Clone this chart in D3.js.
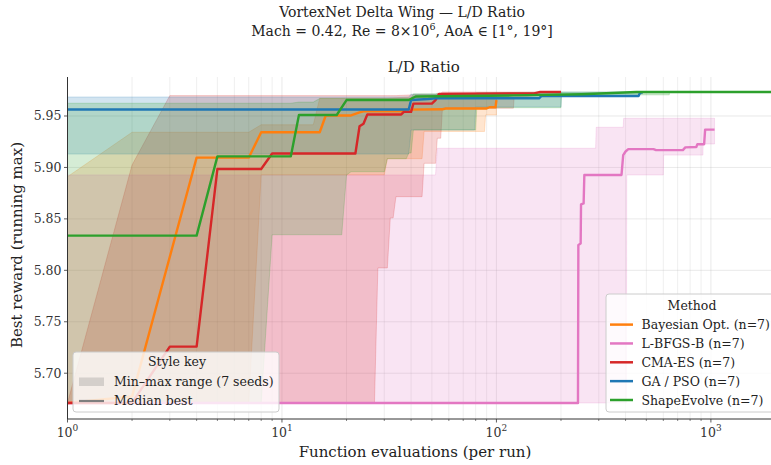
<!DOCTYPE html>
<html><head><meta charset="utf-8">
<script src="https://cdn.jsdelivr.net/npm/d3@7"></script>
<style>
html,body{margin:0;padding:0;background:#fff;overflow:hidden}
svg{display:block;font-family:"DejaVu Serif",serif}
</style></head>
<body><svg id="c" width="771" height="465"></svg>
<script>
// ---------- data (evaluation, value) ----------
const methods = ["Bayesian Opt. (n=7)","L-BFGS-B (n=7)","CMA-ES (n=7)","GA / PSO (n=7)","ShapeEvolve (n=7)"];
const colors  = ["#ff7f0e","#e377c2","#d62728","#1f77b4","#2ca02c"];

const boMedian = [[1,5.6711],[2,5.6775],[4,5.9095],[7,5.9095],[8,5.9342],[15,5.9342],[16,5.9505],[21,5.9505],[23,5.9535],[24,5.9545],[36,5.9545],[38,5.9562],[56,5.9565],[58,5.9573],[90,5.9573],[93,5.9585],[99,5.9585],[100,5.9655]];
const boBand   = [[1,5.6711,5.891],[2,5.6711,5.9342],[7,5.6711,5.9342],[8,5.8927,5.9415],[14,5.8927,5.9415],[15,5.8927,5.9673],[30,5.8927,5.9673],[31,5.9085,5.9673],[45,5.9085,5.969],[46,5.935,5.969],[88,5.935,5.969],[89,5.951,5.969],[100,5.951,5.970]];

const lbMedian = [[1,5.6711],[240,5.6711],[241,5.8247],[247,5.826],[248,5.864],[255,5.865],[257,5.8927],[383,5.8927],[390,5.912],[400,5.9155],[412,5.9178],[540,5.9178],[555,5.9168],[740,5.9168],[760,5.9195],[855,5.9199],[865,5.9226],[930,5.9226],[940,5.9368],[1040,5.9368]];
const lbBand   = [[1,5.6711,5.8927],[52,5.6711,5.8927],[53,5.6711,5.9186],[290,5.6711,5.9186],[292,5.6711,5.939],[390,5.6711,5.939],[392,5.6711,5.9478],[404,5.6711,5.9478],[405,5.8927,5.9478],[600,5.8927,5.9478],[602,5.912,5.9478],[918,5.912,5.9478],[920,5.9228,5.9478],[1040,5.9228,5.9478]];

const cmaMedian = [[1,5.6711],[2,5.6711],[3,5.7258],[4,5.7258],[5,5.8985],[8,5.8985],[9,5.9135],[22,5.9135],[23,5.940],[24,5.9425],[25,5.9515],[36,5.9515],[37,5.954],[40,5.954],[41,5.962],[50,5.962],[52,5.9655],[54,5.9715],[150,5.972],[160,5.9733],[200,5.9733]];
const cmaBand   = [[1,5.6711,5.6711],[2,5.6711,5.9024],[3,5.6711,5.9698],[27,5.6711,5.9698],[28,5.8023,5.9698],[31,5.8023,5.9698],[32,5.851,5.9698],[33,5.851,5.9698],[34,5.8716,5.9698],[45,5.8716,5.971],[46,5.904,5.971],[52,5.904,5.971],[53,5.9284,5.972],[55,5.9284,5.972],[56,5.9576,5.9733],[120,5.9576,5.9733],[121,5.968,5.9733],[200,5.9715,5.9733]];

const gaMedian = [[1,5.9563],[39,5.9563],[40,5.9655],[48,5.9665],[52,5.9672],[158,5.9672],[162,5.9694],[460,5.9694],[468,5.9728],[480,5.9728]];
const gaBand   = [[1,5.913,5.9685],[39,5.913,5.9685],[40,5.9364,5.9712],[79,5.9364,5.9712],[80,5.9587,5.9712],[159,5.9587,5.9712],[160,5.9587,5.9733],[200,5.9587,5.9733],[201,5.9715,5.9733],[480,5.9715,5.9733]];

const seMedian = [[1,5.8337],[4,5.8337],[5,5.9108],[11,5.9108],[12,5.951],[18,5.951],[20,5.9655],[39,5.9655],[42,5.969],[120,5.970],[250,5.9712],[450,5.9733],[2100,5.9733]];
const seBand   = [[1,5.6711,5.9624],[8,5.6711,5.9624],[9,5.8346,5.9624],[11,5.8346,5.9624],[12,5.8346,5.9635],[14,5.8346,5.9635],[15,5.8346,5.967],[19,5.8346,5.967],[20,5.8927,5.967],[21,5.8958,5.967],[30,5.8958,5.967],[31,5.9085,5.967],[38,5.9085,5.967],[39,5.914,5.967],[40,5.914,5.967],[41,5.9364,5.9715],[80,5.9364,5.9715],[81,5.958,5.9725],[200,5.958,5.9733],[201,5.9705,5.9733],[640,5.9705,5.9733],[641,5.9733,5.9733],[2100,5.9733,5.9733]];

const medians = [boMedian, lbMedian, cmaMedian, gaMedian, seMedian];
const bands   = [boBand, lbBand, cmaBand, gaBand, seBand];

const yTicks = [5.70, 5.75, 5.80, 5.85, 5.90, 5.95];
const xMajor = [1, 10, 100, 1000];
const xMinor = [2,3,4,5,6,7,8,9,20,30,40,50,60,70,80,90,200,300,400,500,600,700,800,900,2000];
const titleLine1 = "VortexNet Delta Wing — L/D Ratio";
const axTitle = "L/D Ratio";
const xLabel = "Function evaluations (per run)";
const yLabel = "Best reward (running max)";

// ---------- layout ----------
const L = 67.5, R = 780, T = 77, B = 419;
const svg = d3.select("#c");
const x = d3.scaleLog().domain([1, 2100]).range([L, R]);
const y = d3.scaleLinear().domain([5.6555, 5.9879]).range([B, T]);

svg.append("defs").append("clipPath").attr("id","clip")
  .append("rect").attr("x",L).attr("y",T).attr("width",R-L).attr("height",B-T);

// grid
const grid = svg.append("g");
grid.selectAll(".gx").data(xMajor.concat(xMinor)).join("line")
  .attr("x1",d=>x(d)).attr("x2",d=>x(d)).attr("y1",T).attr("y2",B)
  .attr("stroke","#b0b0b0").attr("stroke-opacity",d=>xMajor.includes(d)?0.35:0.25).attr("stroke-width",0.8);
grid.selectAll(".gy").data(yTicks).join("line")
  .attr("x1",L).attr("x2",R).attr("y1",d=>y(d)).attr("y2",d=>y(d))
  .attr("stroke","#b0b0b0").attr("stroke-opacity",0.35).attr("stroke-width",0.8);

// data: all bands first, then all median lines on top
const plot = svg.append("g").attr("clip-path","url(#clip)");
const area = d3.area().x(d=>x(d[0])).y0(d=>y(d[1])).y1(d=>y(d[2]));
const line = d3.line().x(d=>x(d[0])).y(d=>y(d[1]));
methods.forEach((m,i)=>{
  plot.append("path").attr("d",area(bands[i]))
    .attr("fill",colors[i]).attr("fill-opacity",0.2)
    .attr("stroke",colors[i]).attr("stroke-opacity",0.2).attr("stroke-width",1);
});
methods.forEach((m,i)=>{
  plot.append("path").attr("d",line(medians[i]))
    .attr("fill","none").attr("stroke",colors[i]).attr("stroke-width",2.4)
    .attr("stroke-linejoin","round");
});

// axes
const ax = svg.append("g").attr("fill","#333");
ax.append("line").attr("x1",L).attr("x2",L).attr("y1",T).attr("y2",B).attr("stroke","#333").attr("stroke-width",1);
ax.append("line").attr("x1",L).attr("x2",R).attr("y1",B).attr("y2",B).attr("stroke","#333").attr("stroke-width",1);
yTicks.forEach(v=>{
  ax.append("line").attr("x1",L-3.5).attr("x2",L).attr("y1",y(v)).attr("y2",y(v)).attr("stroke","#333").attr("stroke-width",0.8);
  ax.append("text").attr("x",L-6).attr("y",y(v)+4.5).attr("text-anchor","end")
    .attr("font-size",12.5).attr("fill","#333").text(d3.format(".2f")(v));
});
xMinor.forEach(v=>{
  ax.append("line").attr("x1",x(v)).attr("x2",x(v)).attr("y1",B).attr("y2",B+2).attr("stroke","#333").attr("stroke-width",0.6);
});
xMajor.forEach(v=>{
  ax.append("line").attr("x1",x(v)).attr("x2",x(v)).attr("y1",B).attr("y2",B+3.5).attr("stroke","#333").attr("stroke-width",0.8);
  const t = ax.append("text").attr("x",x(v)).attr("y",437).attr("text-anchor","middle").attr("font-size",12.5).attr("fill","#333");
  t.append("tspan").text("10");
  t.append("tspan").attr("dy",-6).attr("font-size",9).text(String(Math.round(Math.log10(v))));
});

// labels
svg.append("text").attr("x",402).attr("y",17).attr("text-anchor","middle").attr("font-size",14).attr("fill","#222").text(titleLine1);
const t2 = svg.append("text").attr("x",402).attr("y",36).attr("text-anchor","middle").attr("font-size",14).attr("fill","#222");
t2.append("tspan").text("Mach = 0.42, Re = 8×10");
t2.append("tspan").attr("dy",-6).attr("font-size",9.5).text("6");
t2.append("tspan").attr("dy",6).text(", AoA ∈ [1°, 19°]");
svg.append("text").attr("x",(L+R)/2).attr("y",72).attr("text-anchor","middle").attr("font-size",15).attr("fill","#222").text(axTitle);
svg.append("text").attr("x",415).attr("y",457).attr("text-anchor","middle").attr("font-size",15).attr("fill","#222").text(xLabel);
svg.append("text").attr("transform","translate(22,245) rotate(-90)").attr("text-anchor","middle").attr("font-size",15).attr("fill","#222").text(yLabel);

// Method legend
const lg = svg.append("g");
lg.append("rect").attr("x",606).attr("y",294).attr("width",180).attr("height",118).attr("rx",3)
  .attr("fill","#fff").attr("fill-opacity",0.8).attr("stroke","#ccc").attr("stroke-width",1);
lg.append("text").attr("x",692).attr("y",310).attr("text-anchor","middle").attr("font-size",12.5).attr("fill","#222").text("Method");
methods.forEach((m,i)=>{
  const cy = 324.6 + i*18.85;
  lg.append("line").attr("x1",610).attr("x2",633).attr("y1",cy).attr("y2",cy).attr("stroke",colors[i]).attr("stroke-width",2.5);
  lg.append("text").attr("x",641.5).attr("y",cy+4.5).attr("font-size",12.5).attr("fill","#222").text(m);
});

// Style key legend
const sk = svg.append("g");
sk.append("rect").attr("x",73).attr("y",352).attr("width",206).attr("height",60).attr("rx",3)
  .attr("fill","#fff").attr("fill-opacity",0.8).attr("stroke","#ccc").attr("stroke-width",1);
sk.append("text").attr("x",177).attr("y",366).attr("text-anchor","middle").attr("font-size",12.5).attr("fill","#222").text("Style key");
sk.append("rect").attr("x",79).attr("y",377.5).attr("width",25).attr("height",8.5).attr("fill","#888").attr("fill-opacity",0.3);
sk.append("text").attr("x",114).attr("y",386).attr("font-size",12.5).attr("fill","#222").text("Min–max range (7 seeds)");
sk.append("line").attr("x1",79).attr("x2",104).attr("y1",401).attr("y2",401).attr("stroke","#7f7f7f").attr("stroke-width",2.2);
sk.append("text").attr("x",114).attr("y",405).attr("font-size",12.5).attr("fill","#222").text("Median best");
</script></body></html>
